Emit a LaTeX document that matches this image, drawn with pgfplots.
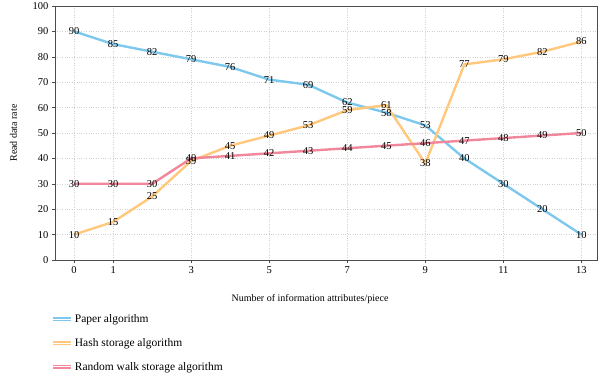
\documentclass[border=0pt]{standalone}
\usepackage{fontspec}
\setmainfont{Liberation Serif}
\usepackage{pgfplots}
\pgfplotsset{compat=1.18}
\definecolor{cblue}{RGB}{125,200,236}
\definecolor{corange}{RGB}{255,200,125}
\definecolor{cpink}{RGB}{240,135,155}
\begin{document}
\begin{tikzpicture}
\begin{axis}[
  scale only axis, width=542pt, height=254pt,
  xmin=-0.49, xmax=13.4, ymin=0, ymax=100,
  xtick={0,1,3,5,7,9,11,13},
  ytick={0,10,...,100},
  tick align=outside, xtick pos=bottom, ytick pos=left,
  major tick length=3pt,
  axis line style={black!70}, tick style={black!70},
  grid=major, grid style={dotted, black!18},
  /pgf/number format/assume math mode=true,
  tick label style={font=\fontsize{10.5}{12}\selectfont},
  label style={font=\fontsize{10}{12}\selectfont},
  xlabel={Number of information attributes/piece},
  ylabel={Read data rate},
  xlabel style={yshift=-14pt, xshift=-16pt},
  ylabel style={yshift=9pt},
  nodes near coords,
  nodes near coords style={font=\fontsize{10.5}{12}\selectfont, black, anchor=center},
  every axis plot/.append style={line width=2.4pt},
  legend style={draw=none, at={(-0.012,-0.197)}, anchor=north west,
    font=\fontsize{11.5}{13}\selectfont, row sep=10.5pt, fill=none},
  legend cell align=left,
  legend image code/.code={
    \draw[#1, line width=3.2pt] (0pt,0pt) -- (18pt,0pt);
    \draw[white, line width=0.9pt] (0pt,0pt) -- (18pt,0pt);
  },
]
\addplot[cblue, mark=none] coordinates {
(0,90)(1,85)(2,82)(3,79)(4,76)(5,71)(6,69)(7,62)(8,58)(9,53)(10,40)(11,30)(12,20)(13,10)};
\addlegendentry{Paper algorithm}
\addplot[corange, mark=none] coordinates {
(0,10)(1,15)(2,25)(3,39)(4,45)(5,49)(6,53)(7,59)(8,61)(9,38)(10,77)(11,79)(12,82)(13,86)};
\addlegendentry{Hash storage algorithm}
\addplot[cpink, mark=none] coordinates {
(0,30)(1,30)(2,30)(3,40)(4,41)(5,42)(6,43)(7,44)(8,45)(9,46)(10,47)(11,48)(12,49)(13,50)};
\addlegendentry{Random walk storage algorithm}
\end{axis}
\pgfresetboundingbox
\path (-55pt,-117pt) rectangle (545pt,260pt);
\end{tikzpicture}
\end{document}
